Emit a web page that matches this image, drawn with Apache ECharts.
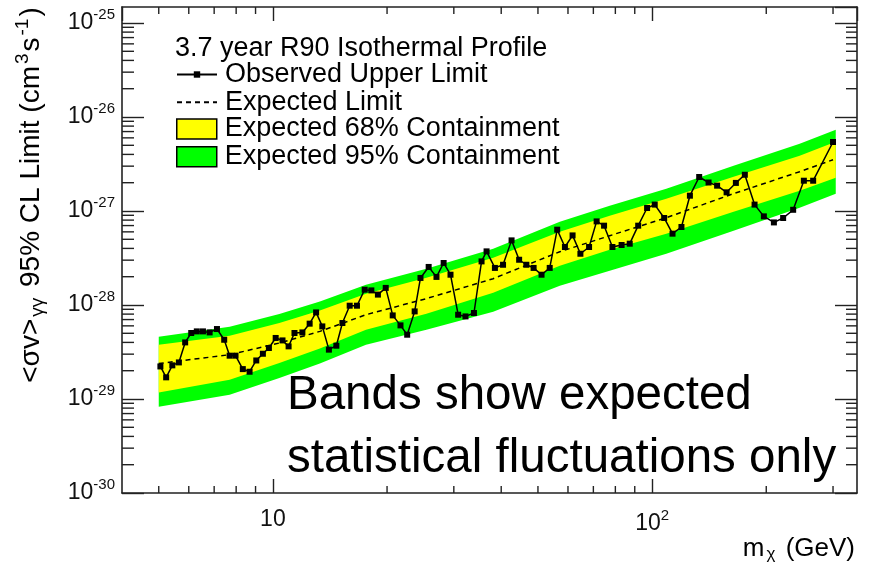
<!DOCTYPE html>
<html><head><meta charset="utf-8">
<script src="https://cdn.jsdelivr.net/npm/echarts@6/dist/echarts.min.js"></script>
<style>html,body{margin:0;padding:0;background:#fff}#c{width:870px;height:566px}</style>
</head><body><div id="c"></div>
<script>
// ---------------- data ----------------
// masses in GeV, limits in cm^3 s^-1
const mass = [5.05, 5.23, 5.43, 5.65, 5.87, 6.09, 6.30, 6.54, 6.81, 7.12,
  7.44, 7.69, 7.97, 8.33, 8.68, 9.04, 9.41, 9.76, 10.17, 10.6,
  11.0, 11.4, 11.96, 12.5, 13.0, 13.5, 14.05, 14.7, 15.25, 15.94,
  16.66, 17.46, 18.18, 18.92, 19.84, 20.7, 21.7, 22.6, 23.65, 24.5,
  25.75, 27.0, 28.2, 29.4, 30.8, 32.2, 33.9, 35.5, 36.6, 38.5,
  40.45, 42.6, 44.6, 46.6, 48.7, 51.1, 53.7, 56.2, 58.9, 61.7,
  64.7, 68.2, 71.4, 74.7, 78.6, 83.1, 87.3, 91.9, 97.0, 101.6,
  107.6, 113.2, 119.5, 125.8, 133.1, 140.9, 148.4, 157.2, 166.3, 175.6,
  186.3, 197.1, 209.5, 221.6, 235.5, 251.3, 265.9, 300];
const observed = [2.22e-29, 1.70e-29, 2.28e-29, 2.45e-29, 4.0e-29, 5.04e-29, 5.24e-29, 5.24e-29, 5.11e-29, 5.55e-29,
  4.27e-29, 2.89e-29, 2.89e-29, 2.08e-29, 1.95e-29, 2.57e-29, 3.03e-29, 3.49e-29, 4.46e-29, 4.20e-29,
  3.63e-29, 5.04e-29, 5.11e-29, 6.33e-29, 8.34e-29, 5.92e-29, 3.35e-29, 3.69e-29, 6.43e-29, 9.83e-29,
  9.83e-29, 1.455e-28, 1.43e-28, 1.29e-28, 1.52e-28, 7.75e-29, 6.07e-29, 4.83e-29, 8.55e-29, 1.94e-28,
  2.54e-28, 1.99e-28, 2.80e-28, 2.10e-28, 7.88e-29, 7.56e-29, 8.22e-29, 2.91e-28, 3.72e-28, 2.48e-28,
  2.68e-28, 4.87e-28, 3.03e-28, 2.68e-28, 2.48e-28, 2.10e-28, 2.48e-28, 6.33e-28, 4.14e-28, 5.50e-28,
  3.51e-28, 4.14e-28, 7.75e-28, 6.98e-28, 4.14e-28, 4.35e-28, 4.49e-28, 6.98e-28, 1.076e-27, 1.17e-27,
  8.43e-28, 5.74e-28, 6.76e-28, 1.455e-27, 2.30e-27, 2.01e-27, 1.86e-27, 1.58e-27, 1.99e-27, 2.43e-27,
  1.17e-27, 8.77e-28, 7.56e-28, 8.43e-28, 1.03e-27, 2.10e-27, 2.10e-27, 5.42e-27];

const expMass  = [5.0, 7.69, 10.4, 13.3, 17.6, 25.4, 38.1, 57.1, 77.3, 109, 164, 245, 300];
const expected = [2.38e-29, 2.96e-29, 3.94e-29, 5.24e-29, 7.88e-29, 1.17e-28, 1.905e-28, 3.69e-28, 5.46e-28, 8.49e-28, 1.53e-27, 2.62e-27, 3.51e-27];

const bandMass = [5.0, 7.69, 10.4, 13.3, 17.6, 25.4, 38.1, 57.1, 77.3, 109, 164, 245, 305];
const band95Hi = [4.60e-29, 5.88e-29, 8.02e-29, 1.09e-28, 1.64e-28, 2.43e-28, 3.97e-28, 7.69e-28, 1.14e-27, 1.73e-27, 3.03e-27, 5.20e-27, 7.33e-27];
const band68Hi = [3.78e-29, 4.71e-29, 6.43e-29, 8.76e-29, 1.32e-28, 1.95e-28, 3.19e-28, 6.02e-28, 8.91e-28, 1.35e-27, 2.32e-27, 3.88e-27, 5.46e-27];
const band68Lo = [1.17e-29, 1.60e-29, 2.42e-29, 3.45e-29, 5.46e-29, 8.08e-29, 1.35e-28, 2.62e-28, 3.87e-28, 5.74e-28, 9.83e-28, 1.64e-27, 2.26e-27];
const band95Lo = [8.28e-30, 1.11e-29, 1.67e-29, 2.39e-29, 3.78e-29, 5.46e-29, 8.49e-29, 1.60e-28, 2.32e-28, 3.51e-28, 6.17e-28, 1.08e-27, 1.53e-27];

const xTickValues = [10, 100];
const yTickValues = [1e-30, 1e-29, 1e-28, 1e-27, 1e-26, 1e-25];
const xRange = [4, 347];
const yRange = [1e-30, 1.48e-25];
const xMinorTicks = [5, 6, 7, 8, 9, 20, 30, 40, 50, 60, 70, 80, 90, 200, 300];

// ---------------- chart ----------------
// The y axis is plotted in units of 1e-30 cm^3 s^-1 to avoid floating-point rounding
// inside the log scale; labels convert back to powers of ten.
const YU = 1e-30;
const ys = v => v / YU;
const yMinorTicks = [];
for (let n = -30; n <= -26; n++) for (let k = 2; k <= 9; k++) yMinorTicks.push(k * Math.pow(10, n));

const FONT = "'Liberation Sans', Arial, Helvetica, sans-serif";
const INK = '#111';
const AX = '#222';

function nearPow(v, list) { return list.find(t => Math.abs(Math.log10(v) - Math.log10(t)) < 1e-6); }
function xLabel(v) {
  const t = nearPow(v, xTickValues);
  if (t === undefined) return '';
  const n = Math.round(Math.log10(t));
  return n === 1 ? '{b|10}' : '{b|10}{s|' + n + '}';
}
function yLabel(v) {
  const t = nearPow(v * YU, yTickValues);
  if (t === undefined) return '';
  const n = Math.round(Math.log10(t));
  return '{b|10}{s|' + n + '}';
}
const labRich = {
  b: { fontSize: 23, fontFamily: FONT, color: INK },
  s: { fontSize: 15, fontFamily: FONT, color: INK, padding: [0, 0, 16, 0] }
};

function xAxisCfg(pos) {
  return {
    type: 'log', logBase: 10, min: xRange[0], max: xRange[1], position: pos,
    splitLine: { show: false }, minorTick: { show: false }, minorSplitLine: { show: false },
    axisLine: { show: true, onZero: false, lineStyle: { color: AX, width: 1.6 } },
    axisTick: { show: true, inside: true, length: 14, lineStyle: { color: AX, width: 1.4 } },
    axisLabel: pos === 'bottom' ? {
      show: true, margin: 15, showMinLabel: false, showMaxLabel: false,
      formatter: xLabel, rich: labRich
    } : { show: false }
  };
}
function yAxisCfg(pos) {
  return {
    type: 'log', logBase: 10, min: ys(yRange[0]), max: ys(yRange[1]), position: pos,
    splitLine: { show: false }, minorTick: { show: false }, minorSplitLine: { show: false },
    axisLine: { show: true, onZero: false, lineStyle: { color: AX, width: 1.6 } },
    axisTick: { show: true, inside: true, length: 22, lineStyle: { color: AX, width: 1.4 } },
    axisLabel: pos === 'left' ? {
      show: true, margin: 7, showMinLabel: true, showMaxLabel: false,
      formatter: yLabel, rich: labRich
    } : { show: false }
  };
}

function bandSeries(name, hi, lo, color, z) {
  return {
    type: 'custom', name: name, coordinateSystem: 'cartesian2d', xAxisIndex: 0, yAxisIndex: 0,
    silent: true, z: z, itemStyle: { color: color },
    data: [[bandMass[0], ys(lo[0])]],
    renderItem: function (params, api) {
      const pts = [];
      for (let i = 0; i < bandMass.length; i++) pts.push(api.coord([bandMass[i], ys(hi[i])]));
      for (let i = bandMass.length - 1; i >= 0; i--) pts.push(api.coord([bandMass[i], ys(lo[i])]));
      return { type: 'polygon', shape: { points: pts }, style: { fill: color, stroke: null } };
    }
  };
}

const minorTickSeries = {
  type: 'custom', name: 'minor ticks', coordinateSystem: 'cartesian2d', silent: true, z: 10,
  data: [[10, ys(1e-28)]],
  renderItem: function (params, api) {
    const cs = params.coordSys;
    const L = cs.x, R = cs.x + cs.width, T = cs.y, B = cs.y + cs.height;
    const kids = [];
    const st = { stroke: AX, lineWidth: 1.4 };
    xMinorTicks.forEach(v => {
      const px = api.coord([v, ys(1e-28)])[0];
      kids.push({ type: 'line', shape: { x1: px, y1: B, x2: px, y2: B - 7 }, style: st });
      kids.push({ type: 'line', shape: { x1: px, y1: T, x2: px, y2: T + 7 }, style: st });
    });
    yMinorTicks.forEach(v => {
      const py = api.coord([10, ys(v)])[1];
      kids.push({ type: 'line', shape: { x1: L, y1: py, x2: L + 12, y2: py }, style: st });
      kids.push({ type: 'line', shape: { x1: R, y1: py, x2: R - 11, y2: py }, style: st });
    });
    return { type: 'group', children: kids };
  }
};

const legendText = { fontSize: 27, fontFamily: FONT, color: '#000', lineHeight: 26, padding: [0, 0, 0, 3] };

const option = {
  animation: false,
  backgroundColor: '#fff',
  textStyle: { fontFamily: FONT },
  grid: { left: 122, right: 13, top: 7, bottom: 73, containLabel: false, outerBoundsMode: 'none' },
  title: {
    text: '3.7 year R90 Isothermal Profile', left: 175, top: 35, padding: 0,
    textStyle: { fontSize: 27, fontWeight: 'normal', fontFamily: FONT, color: '#000', lineHeight: 27 }
  },
  legend: [
    {
      orient: 'vertical', left: 176, top: 61, padding: 0, itemGap: 0.7, itemWidth: 40, itemHeight: 8,
      selectedMode: false, textStyle: legendText,
      data: [
        { name: 'Observed Upper Limit' },
        { name: 'Expected Limit', itemStyle: { opacity: 0 } }
      ]
    },
    {
      orient: 'vertical', left: 176, top: 115.5, padding: 0, itemGap: 0.7, itemWidth: 40, itemHeight: 20,
      selectedMode: false, textStyle: legendText,
      data: [
        { name: 'Expected 68% Containment', icon: 'rect', itemStyle: { color: '#ffff00', borderColor: '#000', borderWidth: 1.5 } },
        { name: 'Expected 95% Containment', icon: 'rect', itemStyle: { color: '#00ff00', borderColor: '#000', borderWidth: 1.5 } }
      ]
    }
  ],
  xAxis: [xAxisCfg('bottom'), xAxisCfg('top')],
  yAxis: [yAxisCfg('left'), yAxisCfg('right')],
  series: [
    bandSeries('Expected 95% Containment', band95Hi, band95Lo, '#00ff00', 1),
    bandSeries('Expected 68% Containment', band68Hi, band68Lo, '#ffff00', 2),
    {
      type: 'line', name: 'Expected Limit', z: 3, symbol: 'none', silent: true,
      lineStyle: { color: '#000', width: 1.5, type: [5, 4] }, itemStyle: { color: '#000' },
      data: expMass.map((m, i) => [m, ys(expected[i])])
    },
    {
      type: 'line', name: 'Observed Upper Limit', z: 4, symbol: 'rect', symbolSize: 6, silent: true,
      lineStyle: { color: '#000', width: 1.5 }, itemStyle: { color: '#000' },
      data: mass.map((m, i) => [m, ys(observed[i])])
    },
    minorTickSeries
  ],
  graphic: [
    {
      type: 'text', x: 31, y: 195, rotation: Math.PI / 2, silent: true,
      style: {
        text: '{t|<σv>}{sub|γγ}{t| 95% CL Limit (cm}{sup|3}{t|s}{sup|-1}{t|)}',
        align: 'center', verticalAlign: 'middle',
        rich: {
          t: { fontSize: 28, fontFamily: FONT, fill: '#000' },
          sub: { fontSize: 19, fontFamily: FONT, fill: '#000', padding: [14, 3, 0, 2] },
          sup: { fontSize: 19, fontFamily: FONT, fill: '#000', padding: [0, 2, 16, 2] }
        }
      }
    },
    {
      type: 'text', right: 15, top: 536, silent: true,
      style: {
        text: '{t|m}{sub|χ}{t| (GeV)}',
        rich: {
          t: { fontSize: 26, fontFamily: FONT, fill: '#000' },
          sub: { fontSize: 17, fontFamily: FONT, fill: '#000', padding: [11, 3, 0, 2] }
        }
      }
    },
    {
      type: 'text', left: 287, top: 364, silent: true,
      style: {
        text: 'Bands show expected\nstatistical fluctuations only',
        fontSize: 47.5, lineHeight: 63, fontFamily: FONT, fill: '#000'
      }
    }
  ]
};

const chart = echarts.init(document.getElementById('c'));
chart.setOption(option);
</script>
</body></html>
